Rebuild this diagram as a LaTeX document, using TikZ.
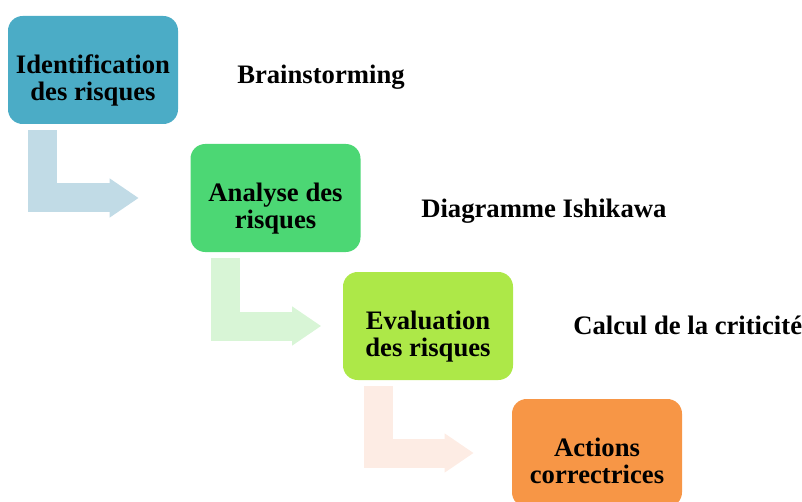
\documentclass[tikz,border=0pt]{standalone}
\usepackage{fontspec}
\setmainfont{Liberation Serif}
\usetikzlibrary{arrows.meta}
\definecolor{bleuA}{HTML}{4BACC6}
\definecolor{vertA}{HTML}{4CD774}
\definecolor{vertB}{HTML}{ADE848}
\definecolor{orangeA}{HTML}{F79646}
\definecolor{flecheA}{HTML}{C1DBE6}
\definecolor{flecheB}{HTML}{D8F5D6}
\definecolor{flecheC}{HTML}{FDECE4}
\begin{document}
\begin{tikzpicture}[x=0.75pt,y=-0.75pt,
    phase/.style={rounded corners=11pt,minimum width=127.5pt,minimum height=81pt,
        inner sep=0pt,align=center,text height=50.3pt,text depth=4.5pt,
        font=\fontsize{20}{20}\selectfont\bfseries},
    outil/.style={anchor=base west,inner sep=0pt,font=\fontsize{20}{20}\selectfont\bfseries},
    bent/.style={line width=21.75pt,-{Triangle[length=21.75pt,width=27.75pt]}}]
    \useasboundingbox (0,0) rectangle (802,502);
    % etapes
    \node[phase,fill=bleuA]   (ident)   at (93,70)    {Identification\\des risques};
    \node[phase,fill=vertA]   (analyse) at (275.5,198) {Analyse des\\risques};
    \node[phase,fill=vertB]   (eval)    at (428,326)  {Evaluation\\des risques};
    \node[phase,fill=orangeA] (actions) at (597,453)  {Actions\\correctrices};
    % outils
    \node[outil] (brain) at (237,84)  {Brainstorming};
    \node[outil] (ishi)  at (421,218) {Diagramme Ishikawa};
    \node[outil] (crit)  at (573,334) {Calcul de la criticité};
    % fleches coudees
    \coordinate (tip1) at ([xshift=98.25pt]ident.west);
    \coordinate (tip2) at ([xshift=98.25pt]analyse.west);
    \coordinate (tip3) at ([xshift=98.25pt]eval.west);
    \draw[bent,flecheA] ([xshift=-37.9pt,yshift=-4.5pt]ident.south) |- (analyse.west -| tip1);
    \draw[bent,flecheB] ([xshift=-37.5pt,yshift=-4.5pt]analyse.south) |- (eval.west -| tip2);
    \draw[bent,flecheC] ([xshift=-37.5pt,yshift=-4.5pt]eval.south) |- (actions.west -| tip3);
\end{tikzpicture}
\end{document}
